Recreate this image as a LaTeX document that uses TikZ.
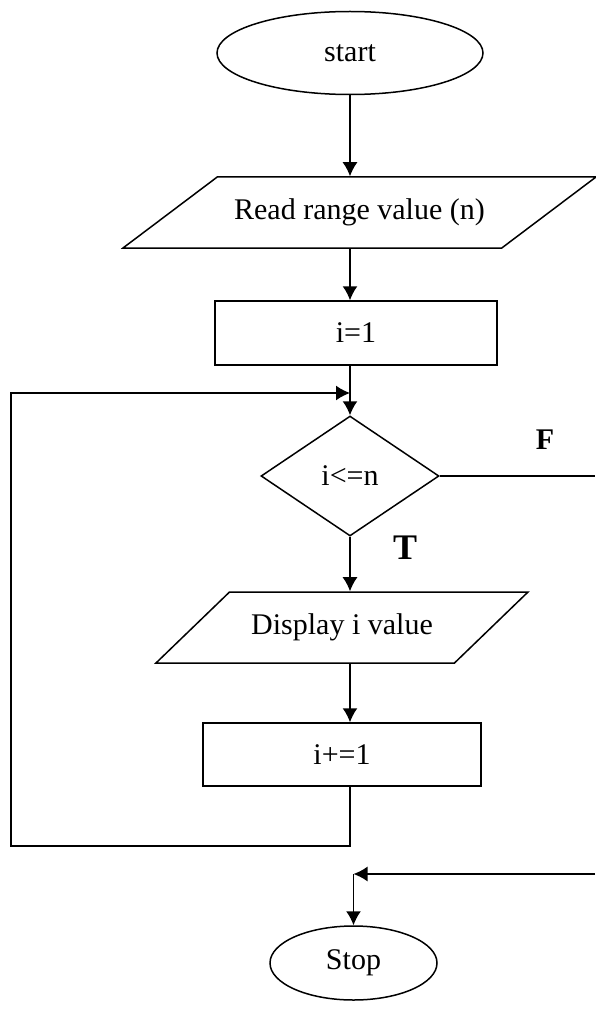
\documentclass[tikz,border=0pt]{standalone}
\usepackage{fontspec}
\setmainfont{Liberation Serif}
\usetikzlibrary{shapes.geometric, arrows.meta}

\begin{document}
\begin{tikzpicture}[x = 1pt, y = -1pt, line width = 1.5pt,
  font = \fontsize{30pt}{36pt}\selectfont,
  >={Latex[length = 14pt, width = 15pt]},
  term/.style = {draw = black, shape = ellipse, inner sep = 0pt},
  io/.style = {draw = black, shape = trapezium, trapezium stretches body,
               text height = 21pt, text depth = 7pt, inner xsep = 0pt, inner ysep = 21.5pt},
  proc/.style = {draw = black, shape = rectangle, inner sep = 0pt}]

\useasboundingbox (0, 0) rectangle (595, 1011);

\node [term, minimum width = 266pt, minimum height = 83pt] (start) at (350, 53) {start};

\node [io, trapezium left angle = 37, trapezium right angle = 143,
       minimum width = 473pt] (read) at (359.5, 212.5) {Read range value (n)};
\path [draw, ->] (start.south) -- (start |- read.north);

\node [proc, minimum width = 282pt, minimum height = 64pt] (init) at (356, 333) {i=1};
\path [draw, ->] (start |- read.south) -- (start |- init.north);

\node [draw = black, shape = diamond, aspect = 1.5, inner sep = 0pt,
       minimum width = 178pt, minimum height = 120pt] (cond) at (350, 476) {i<=n};
\path [draw, ->] (cond |- init.south) -- (cond.north);

\node [io, trapezium left angle = 44, trapezium right angle = 136,
       minimum width = 372pt] (disp) at (342, 627.5) {Display i value};
\path [draw, ->] (cond.south) -- (cond |- disp.north);
\node [font = \fontsize{36pt}{40pt}\selectfont\bfseries] (tlabel) at (405, 548) {T};

\node [proc, minimum width = 278pt, minimum height = 63pt] (incr) at (342, 754.5) {i+=1};
\path [draw, ->] (cond |- disp.south) -- (cond |- incr.north);

% loop back to the test
\coordinate (loopbot) at (11, 846);
\coordinate (looptop) at (11, 393);
\path [draw, ->] (cond |- incr.south) -- (cond |- loopbot) -- (loopbot) -- (looptop) -- (cond |- looptop);

% false branch
\coordinate (fout) at (595, 476);
\coordinate (fin) at (595, 874);
\path [draw] (cond.east) -- (fout);
\node [font = \fontsize{30pt}{36pt}\selectfont\bfseries] (flabel) at (545, 440) {F};

\node [term, minimum width = 167pt, minimum height = 74pt] (stop) at (353.5, 963) {Stop};
\path [draw, ->] (fin) -- (stop |- fin);
\path [draw, ->] (stop |- fin) -- (stop.north);

\end{tikzpicture}
\end{document}
